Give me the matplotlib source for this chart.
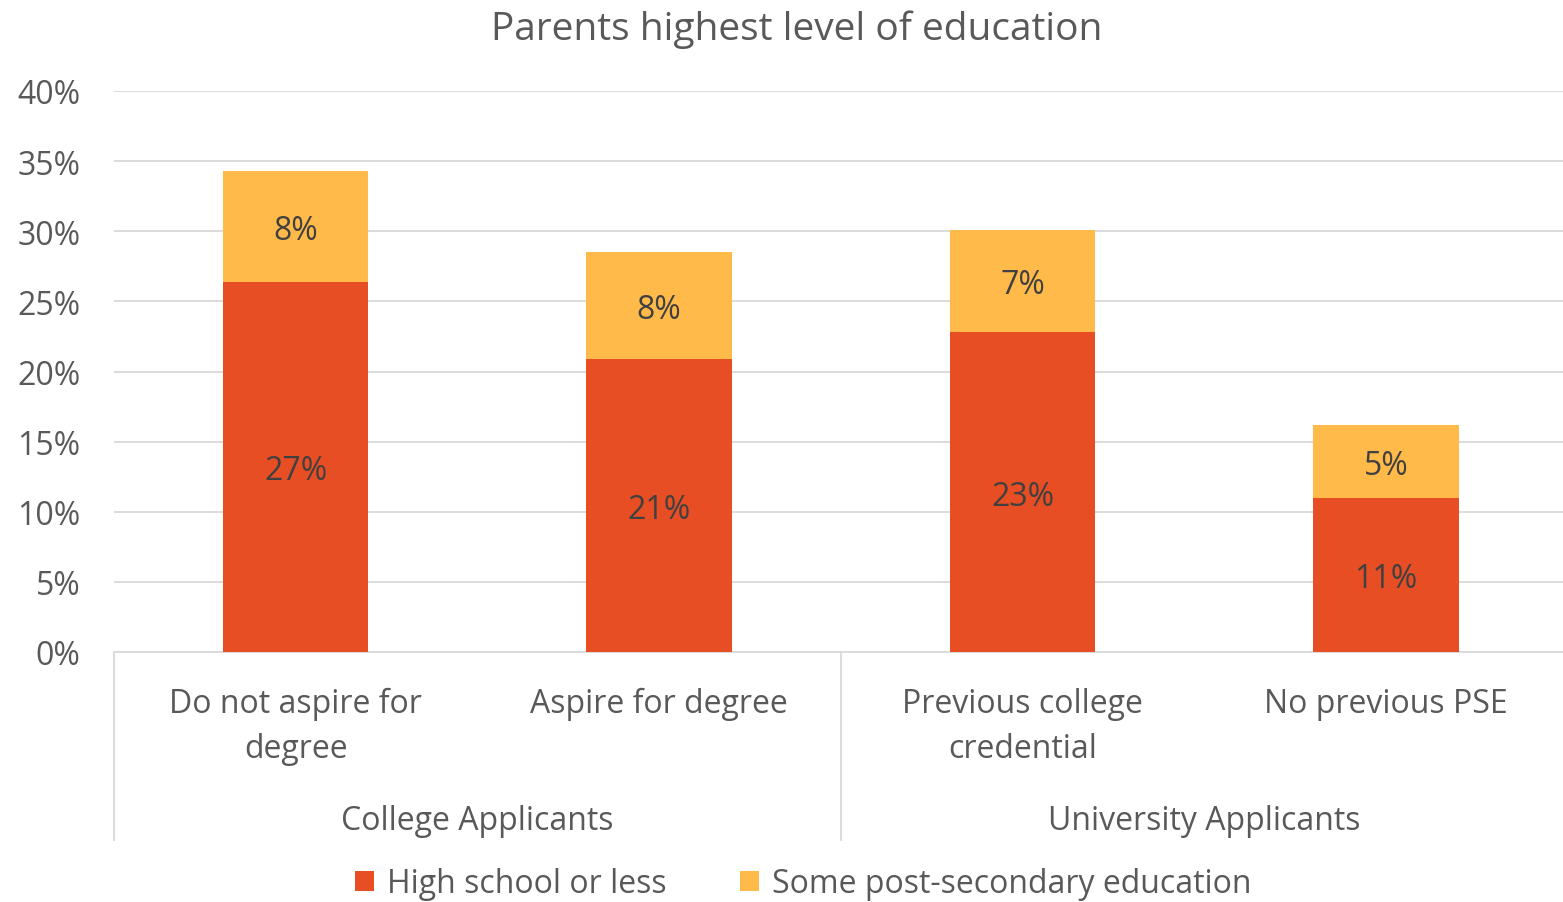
import numpy as np
import matplotlib.pyplot as plt
from matplotlib.lines import Line2D

categories = ['Do not aspire for\ndegree', 'Aspire for degree',
              'Previous college\ncredential', 'No previous PSE']
groups = ['College Applicants', 'University Applicants']
high_school = [26.4, 20.9, 22.8, 11.0]
some_pse = [7.9, 7.6, 7.3, 5.2]
hs_labels = ['27%', '21%', '23%', '11%']
pse_labels = ['8%', '8%', '7%', '5%']

RED = '#E84E23'
ORANGE = '#FFBA4A'
TXT = '#595959'

plt.rcParams['font.family'] = ['Open Sans', 'DejaVu Sans']

fig = plt.figure(figsize=(15.63, 9.03), dpi=100)
ax = fig.add_axes([114 / 1563, 1 - 653 / 903, 1 - 114 / 1563 + 0.003, (653 - 92) / 903])

x = np.arange(len(categories))
b1 = ax.bar(x, high_school, width=0.4, color=RED, label='High school or less', zorder=3)
b2 = ax.bar(x, some_pse, width=0.4, bottom=high_school, color=ORANGE,
            label='Some post-secondary education', zorder=3)

# labels sit a touch below the middle, like the original
nudge = 0.28
for rect, lab in zip(b1, hs_labels):
    ax.text(rect.get_x() + rect.get_width() / 2, rect.get_y() + rect.get_height() / 2 - nudge,
            lab, ha='center', va='center', fontsize=23, color='#404040', zorder=4)
for rect, lab in zip(b2, pse_labels):
    ax.text(rect.get_x() + rect.get_width() / 2, rect.get_y() + rect.get_height() / 2 - nudge,
            lab, ha='center', va='center', fontsize=23, color='#404040', zorder=4)

ax.set_xlim(-0.5, len(categories) - 0.5)
ax.set_ylim(0, 40)
ax.set_yticks(np.arange(0, 41, 5))
ax.set_yticklabels([f'{v}%' for v in range(0, 41, 5)])
ax.yaxis.grid(True, color='#D9D9D9', linewidth=1.3, zorder=0)
ax.tick_params(axis='y', length=0, labelsize=23, labelcolor=TXT, pad=24)
ax.tick_params(axis='x', length=0, labelsize=23, labelcolor=TXT, pad=25)
ax.set_xticks(x)
ax.set_xticklabels(categories, linespacing=1.5)
for s in ['top', 'right', 'left']:
    ax.spines[s].set_visible(False)
ax.spines['bottom'].set_color('#D9D9D9')
ax.spines['bottom'].set_linewidth(1.3)

# group separators and labels
sep_len = (841 - 653) / (653 - 92)
for xs in [-0.5, 1.5, 3.5]:
    ax.add_line(Line2D([xs, xs], [0, -sep_len * 40], color='#D9D9D9', linewidth=1.3,
                       clip_on=False))
for i, g in enumerate(groups):
    ax.text(2 * i + 0.5, -(822 - 653) / (653 - 92) * 40, g, ha='center', va='center',
            fontsize=23, color=TXT)

fig.suptitle('Parents highest level of education', x=797 / 1563, y=1 - 30 / 903,
             va='center', fontsize=28, color=TXT)

fig.legend(handles=[b1, b2], loc='center', bbox_to_anchor=(803 / 1563, 1 - 885 / 903),
           ncol=2, frameon=False, fontsize=23, labelcolor=TXT, handlelength=0.6,
           handleheight=0.6, handletextpad=0.4, columnspacing=2.3)

fig.savefig('out.png', dpi=100)
